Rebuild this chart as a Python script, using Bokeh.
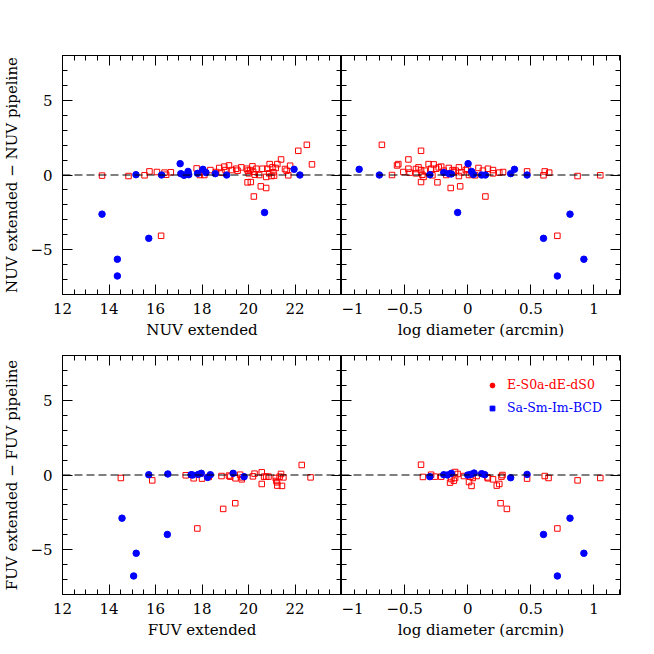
import numpy as np
from bokeh.plotting import figure
from bokeh.layouts import row, column
from bokeh.models import (LinearAxis, SingleIntervalTicker, Range1d, Span,
                          CustomJSTickFormatter, Legend, LegendItem, ColumnDataSource)
from bokeh.embed import file_html
from bokeh.resources import INLINE

FONT = "DejaVu Serif"
MINUS = "\u2212"

# ---------------- data ----------------
# NUV extended vs (NUV extended - NUV pipeline)
nuv_red_x = [13.70, 14.84, 15.53, 15.74, 16.06, 16.24, 16.39, 16.46, 16.66, 17.77,
             17.91, 18.10, 18.36, 18.60, 18.74, 18.84, 18.96, 19.01, 19.16, 19.29,
             19.47, 19.53, 19.69, 19.93, 19.97, 20.01, 19.96, 20.10, 20.07, 20.17,
             20.20, 20.27, 20.34, 20.23, 20.46, 20.53, 20.60, 20.76, 20.76, 20.81,
             20.91, 20.89, 20.99, 21.03, 21.07, 21.10, 21.17, 21.24, 21.40, 21.57,
             21.64, 21.71, 21.79, 22.14, 22.51, 22.73]
nuv_red_dy = [-0.04, -0.07, -0.02, 0.24, 0.20, -4.07, 0.16, 0.02, 0.18, 0.44,
              0.00, 0.00, 0.33, 0.20, 0.47, 0.16, 0.56, 0.33, 0.64, 0.33,
              0.42, 0.29, 0.51, 0.42, 0.29, 0.11, -0.49, -0.47, 0.33, 0.58,
              0.22, 0.02, 0.42, -1.44, 0.00, -0.76, 0.42, -0.87, -0.13, 0.42,
              0.73, 0.11, -0.07, 0.51, 0.18, -0.04, 0.47, 0.73, 1.04, 0.40,
              0.29, -0.02, 0.62, 1.62, 2.02, 0.71]
nuv_blue_x = [13.70, 14.36, 14.36, 15.16, 15.71, 16.26, 17.06, 17.09, 17.23, 17.40,
              17.43, 17.81, 18.04, 18.17, 18.57, 19.06, 20.69, 21.96, 22.21]
nuv_blue_dy = [-2.62, -5.64, -6.76, 0.02, -4.24, 0.00, 0.76, 0.09, -0.02, 0.24,
               0.02, 0.11, 0.38, 0.16, 0.09, 0.00, -2.51, 0.38, 0.00]

# log diameter vs (NUV extended - NUV pipeline)
nlogd_red_x = [-0.68, -0.60, -0.56, -0.55, -0.51, -0.47, -0.47, -0.46, -0.41, -0.41,
               -0.39, -0.37, -0.37, -0.37, -0.36, -0.35, -0.34, -0.31, -0.29, -0.28,
               -0.27, -0.25, -0.24, -0.23, -0.21, -0.19, -0.17, -0.15, -0.135, -0.12,
               -0.11, -0.095, -0.07, -0.07, -0.06, -0.05, -0.016, -0.003, 0.01, 0.03,
               0.058, 0.085, 0.12, 0.14, 0.16, 0.20, 0.20, 0.25, 0.28, 0.47,
               0.60, 0.61, 0.645, 0.71, 0.87, 1.05]
nlogd_red_dy = [2.02, 0.00, 0.64, 0.73, 0.20, 1.04, 0.42, 0.16, 0.40, 0.11,
                0.51, 0.33, 1.62, -0.47, 0.02, -0.13, 0.29, 0.73, 0.42, -0.02,
                0.71, 0.42, -0.49, 0.51, 0.56, 0.29, 0.00, 0.47, -0.87, 0.33,
                0.20, 0.29, 0.51, -0.07, -0.76, 0.18, 0.33, 0.42, 0.00, 0.11,
                -0.02, 0.47, 0.29, -1.44, 0.42, 0.33, 0.11, 0.16, 0.20, 0.24,
                -0.02, 0.24, 0.16, -4.07, -0.07, -0.02]
nlogd_blue_x = [-0.86, -0.70, -0.30, -0.19, -0.148, -0.13, -0.08, 0.003, 0.03, 0.045,
                0.11, 0.14, 0.34, 0.37, 0.47, 0.60, 0.71, 0.81, 0.92]
nlogd_blue_dy = [0.38, 0.00, 0.02, 0.16, 0.09, 0.07, -2.51, 0.76, 0.24, 0.04,
                 0.00, 0.00, 0.09, 0.38, 0.00, -4.24, -6.76, -2.62, -5.64]

# FUV extended vs (FUV extended - FUV pipeline)
fuv_red_x = [14.51, 15.86, 17.30, 17.64, 17.80, 18.00, 18.29, 18.84, 18.91, 19.16,
             19.21, 19.43, 19.44, 19.64, 19.71, 19.74, 20.19, 20.26, 20.57, 20.57,
             20.67, 20.76, 20.86, 21.17, 21.20, 21.23, 21.24, 21.34, 21.40, 21.44,
             21.50, 22.29, 22.67]
fuv_red_dy = [-0.20, -0.36, -0.02, -0.22, -3.58, -0.24, -0.13, -0.07, -2.27, -0.04,
              -0.11, -1.89, -0.22, 0.02, -0.29, -0.16, -0.09, 0.09, 0.18, -0.60,
              -0.11, -0.11, -0.11, -0.20, -0.40, -0.49, -0.71, -0.11, 0.07, -0.73,
              -0.16, 0.67, -0.16]
fuv_blue_x = [14.56, 15.17, 15.06, 15.71, 16.51, 16.53, 17.53, 17.60, 17.84, 17.97,
              18.24, 18.36, 19.34, 19.81]
fuv_blue_dy = [-2.89, -5.24, -6.76, 0.02, -3.98, 0.07, 0.02, 0.00, 0.04, 0.11,
               -0.16, 0.02, 0.11, -0.11]

# log diameter vs (FUV extended - FUV pipeline)
flogd_red_x = [-0.37, -0.355, -0.29, -0.26, -0.21, -0.14, -0.13, -0.11, -0.10, -0.10,
               -0.08, -0.03, 0.01, 0.02, 0.03, 0.04, 0.07, 0.156, 0.16, 0.20,
               0.23, 0.25, 0.26, 0.267, 0.275, 0.31, 0.47, 0.61, 0.64, 0.71,
               0.87, 1.05]
flogd_red_dy = [0.69, -0.13, 0.02, -0.11, -0.11, -0.51, -0.27, -0.38, -0.20, 0.20,
                0.07, -0.07, -0.47, -0.11, -0.73, -0.20, -0.07, -0.16, -0.22, -0.29,
                -0.71, -0.60, -1.89, -0.11, 0.00, -2.27, -0.24, -0.07, -0.20, -3.58,
                -0.36, -0.20]
flogd_blue_x = [-0.30, -0.19, -0.16, -0.13, 0.00, 0.024, 0.05, 0.11, 0.135, 0.34,
                0.47, 0.60, 0.71, 0.81, 0.92]
flogd_blue_dy = [-0.11, 0.02, 0.00, 0.11, 0.00, 0.04, 0.13, 0.09, 0.02, -0.18,
                 0.04, -3.98, -6.76, -2.89, -5.24]

legend_labels = ["E-S0a-dE-dS0", "Sa-Sm-Im-BCD"]
nuv_ylabel = "NUV extended " + MINUS + " NUV pipeline"
fuv_ylabel = "FUV extended " + MINUS + " FUV pipeline"
nuv_xlabel = "NUV extended"
fuv_xlabel = "FUV extended"
logd_xlabel = "log diameter (arcmin)"

MAG_RANGE = (12, 24)
LOGD_RANGE = (-1, 1.21)
DY_RANGE = (-8, 8)

mag_overrides = {24: ""}
logd_overrides = {-1: MINUS + "1", -0.5: MINUS + "0.5"}
dy_overrides = {-5: MINUS + "5"}


def make_axis(interval, minor, labels, overrides=None, standoff=8,
              axis_label=None, axis_label_standoff=4):
    ax = LinearAxis(
        ticker=SingleIntervalTicker(interval=interval, num_minor_ticks=minor),
        major_tick_in=10, major_tick_out=0, minor_tick_in=5, minor_tick_out=0,
        axis_line_color="black", major_tick_line_color="black",
        minor_tick_line_color="black",
        major_label_text_font=FONT, major_label_text_font_size="15px",
        major_label_text_color="black",
        axis_label_text_font=FONT, axis_label_text_font_size="15px",
        axis_label_text_font_style="normal", axis_label_text_color="black")
    if labels:
        ax.major_label_overrides = overrides or {}
        ax.major_label_standoff = standoff
    else:
        ax.formatter = CustomJSTickFormatter(code="return ''")
        ax.major_label_standoff = 0
    if axis_label is not None:
        ax.axis_label = axis_label
        ax.axis_label_standoff = axis_label_standoff
    return ax


def make_fig(xr, w, h, ml, mr, mt, mb):
    p = figure(width=w, height=h, x_range=Range1d(*xr), y_range=Range1d(*DY_RANGE),
               output_backend="svg", toolbar_location=None,
               x_axis_location=None, y_axis_location=None,
               min_border_left=ml, min_border_right=mr,
               min_border_top=mt, min_border_bottom=mb)
    p.grid.visible = False
    p.outline_line_color = "black"
    p.background_fill_color = "white"
    p.border_fill_color = "white"
    p.add_layout(Span(location=0, dimension="width", line_color="black",
                      line_width=1, line_dash="8 4"))
    return p


def add_points(p, rx, ry, bx, by):
    p.scatter(rx, ry, marker="square", size=5.5, fill_color=None,
              line_color="red", line_width=1)
    p.scatter(bx, by, marker="circle", size=6.5, fill_color="blue",
              line_color="blue")


W_L, W_R = 341, 299
H_T, H_B = 344, 300

# ---- top left
tl = make_fig(MAG_RANGE, W_L, H_T, 61, 0, 55, 50)
tl.add_layout(make_axis(2, 4, True, mag_overrides, axis_label=nuv_xlabel), "below")
tl.add_layout(make_axis(2, 4, False), "above")
tl.add_layout(make_axis(5, 5, True, dy_overrides, standoff=10,
                        axis_label=nuv_ylabel, axis_label_standoff=6), "left")
tl.add_layout(make_axis(5, 5, False), "right")
add_points(tl, nuv_red_x, nuv_red_dy, nuv_blue_x, nuv_blue_dy)

# ---- top right
tr = make_fig(LOGD_RANGE, W_R, H_T, 0, 20, 55, 50)
tr.add_layout(make_axis(0.5, 5, True, logd_overrides, axis_label=logd_xlabel), "below")
tr.add_layout(make_axis(0.5, 5, False), "above")
tr.add_layout(make_axis(5, 5, False), "left")
tr.add_layout(make_axis(5, 5, False), "right")
add_points(tr, nlogd_red_x, nlogd_red_dy, nlogd_blue_x, nlogd_blue_dy)

# ---- bottom left
bl = make_fig(MAG_RANGE, W_L, H_B, 61, 0, 11, 50)
bl.add_layout(make_axis(2, 4, True, mag_overrides, axis_label=fuv_xlabel), "below")
bl.add_layout(make_axis(2, 4, False), "above")
bl.add_layout(make_axis(5, 5, True, dy_overrides, standoff=10,
                        axis_label=fuv_ylabel, axis_label_standoff=6), "left")
bl.add_layout(make_axis(5, 5, False), "right")
add_points(bl, fuv_red_x, fuv_red_dy, fuv_blue_x, fuv_blue_dy)

# ---- bottom right
br = make_fig(LOGD_RANGE, W_R, H_B, 0, 20, 11, 50)
br.add_layout(make_axis(0.5, 5, True, logd_overrides, axis_label=logd_xlabel), "below")
br.add_layout(make_axis(0.5, 5, False), "above")
br.add_layout(make_axis(5, 5, False), "left")
br.add_layout(make_axis(5, 5, False), "right")
add_points(br, flogd_red_x, flogd_red_dy, flogd_blue_x, flogd_blue_dy)

# legend (symbols as in the original key); placeholder sources hold no visible point
empty = dict(x=np.array([np.nan]), y=np.array([np.nan]))
lr = br.scatter("x", "y", source=ColumnDataSource(empty), marker="circle",
                fill_color="red", line_color="red")
lb = br.scatter("x", "y", source=ColumnDataSource(dict(empty)), marker="square",
                fill_color="blue", line_color="blue")
for item_label, rend, col, loc in [(legend_labels[0], lr, "red", (145, 202)),
                                   (legend_labels[1], lb, "blue", (145, 179))]:
    lg = Legend(items=[LegendItem(label=item_label, renderers=[rend])],
                location=loc, padding=0, margin=0, spacing=0,
                glyph_width=12, glyph_height=12, label_standoff=9, label_height=12,
                label_text_font=FONT, label_text_font_size="12.5px",
                label_text_color=col, border_line_color=None,
                background_fill_alpha=0)
    br.add_layout(lg)

layout = column(row(tl, tr), row(bl, br))
open("out.html", "w").write(file_html(layout, INLINE))
